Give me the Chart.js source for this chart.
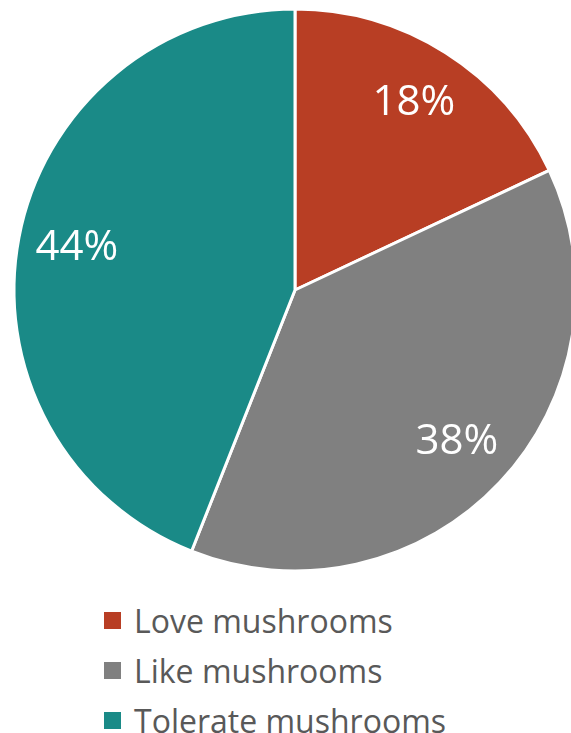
<!DOCTYPE html>
<html>
<head>
<meta charset="utf-8">
<script src="https://cdn.jsdelivr.net/npm/chart.js@4"></script>
<style>
  html, body { margin: 0; padding: 0; background: #fff; overflow: hidden; }
  #wrap { position: absolute; left: 0; top: 0; width: 600px; height: 590px; }
  #legend { position: absolute; left: 104px; top: 595px; font-family: "Open Sans", sans-serif; font-size: 32px; color: #595959; }
  #legend .row { height: 50px; display: flex; align-items: center; white-space: nowrap; }
  #legend .box { width: 17px; height: 17px; margin-right: 13px; flex: none; }
</style>
</head>
<body>
<div id="wrap"><canvas id="pie" width="600" height="590"></canvas></div>
<div id="legend"></div>
<script>
// mushroom opinion shares, percent
const labels = ['Love mushrooms', 'Like mushrooms', 'Tolerate mushrooms'];
const shares = [18, 38, 44];
const colors = ['#B83E24', '#808080', '#1A8A87'];

// white percentage text inside each slice
const sliceLabels = {
  id: 'sliceLabels',
  afterDatasetsDraw(chart) {
    const ctx = chart.ctx;
    const meta = chart.getDatasetMeta(0);
    ctx.save();
    ctx.fillStyle = '#fff';
    ctx.font = '42px "Open Sans", sans-serif';
    ctx.textAlign = 'center';
    ctx.textBaseline = 'middle';
    meta.data.forEach((arc, i) => {
      const { x, y, startAngle, endAngle, outerRadius } = arc.getProps(['x', 'y', 'startAngle', 'endAngle', 'outerRadius'], true);
      const mid = (startAngle + endAngle) / 2;
      const r = outerRadius * 0.79;
      ctx.fillText(shares[i] + '%', x + Math.cos(mid) * r, y + Math.sin(mid) * r);
    });
    ctx.restore();
  }
};

new Chart(document.getElementById('pie'), {
  type: 'pie',
  data: {
    labels: labels,
    datasets: [{
      data: shares,
      backgroundColor: colors,
      borderColor: '#fff',
      borderWidth: 3
    }]
  },
  options: {
    responsive: false,
    animation: false,
    radius: 281,
    layout: { padding: { left: 13, top: 8, right: 23, bottom: 18 } },
    plugins: {
      legend: { display: false },
      tooltip: { enabled: false }
    }
  },
  plugins: [sliceLabels]
});

// legend rows below the pie
const legend = document.getElementById('legend');
labels.forEach((name, i) => {
  const row = document.createElement('div');
  row.className = 'row';
  const box = document.createElement('span');
  box.className = 'box';
  box.style.background = colors[i];
  const txt = document.createElement('span');
  txt.textContent = name;
  row.appendChild(box);
  row.appendChild(txt);
  legend.appendChild(row);
});
</script>
</body>
</html>
